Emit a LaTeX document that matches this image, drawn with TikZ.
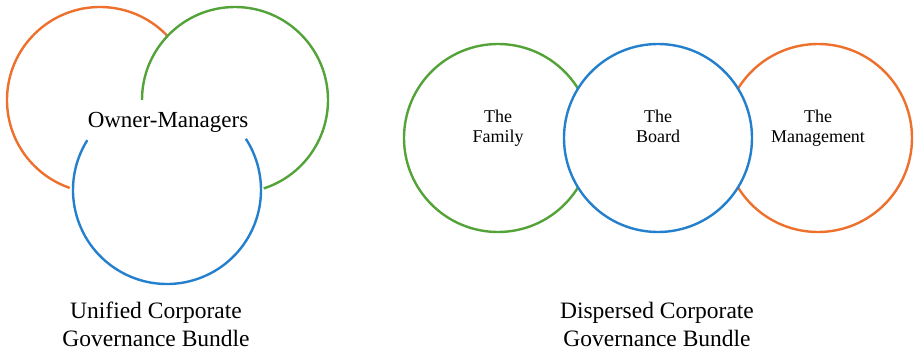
\documentclass[tikz,border=0pt]{standalone}
\usepackage{fontspec}
\setmainfont{Liberation Serif}
\definecolor{ringorange}{RGB}{237,112,45}
\definecolor{ringgreen}{RGB}{84,163,56}
\definecolor{ringblue}{RGB}{36,128,204}
\begin{document}
\begin{tikzpicture}[x=1pt,y=1pt,
  ring/.style={line width=2.4pt},
  biglabel/.style={font=\fontsize{23.5}{28}\selectfont, align=center, anchor=base, inner sep=0pt},
  smalllabel/.style={font=\fontsize{18}{20}\selectfont, align=center, anchor=base, inner sep=0pt}]
  \useasboundingbox (0,0) rectangle (914,356);

  % Unified bundle: three interlocking rings
  \coordinate (oc) at (100,256);
  \coordinate (gc) at (235,256);
  \coordinate (bc) at (167,166);
  \draw[ring, ringorange] (oc) ++(44:93) arc[start angle=44, end angle=251, radius=93];
  \draw[ring, ringgreen] (gc) ++(180:93) arc[start angle=180, end angle=-72, radius=93];
  \draw[ring, ringblue] (bc) ++(148:94) arc[start angle=148, end angle=393, radius=94];
  \node[font=\fontsize{23}{28}\selectfont, anchor=base, inner sep=0pt] (owners) at (168,228) {Owner-Managers};

  % Dispersed bundle: three overlapping rings, the board in front
  \draw[ring, ringgreen] (498,218) circle[radius=94];
  \draw[ring, ringorange] (818,218) circle[radius=94];
  \draw[ring, ringblue, fill=white] (658,218) circle[radius=94];
  % multi-line nodes sit on the baseline of their last line
  \node[smalllabel] (family) at (498,213) {The\\Family};
  \node[smalllabel] (board) at (658,213) {The\\Board};
  \node[smalllabel] (management) at (818,213) {The\\Management};

  % Captions
  \node[biglabel] (unified) at (156,9) {Unified Corporate\\Governance Bundle};
  \node[biglabel] (dispersed) at (657,9) {Dispersed Corporate\\Governance Bundle};
\end{tikzpicture}
\end{document}
